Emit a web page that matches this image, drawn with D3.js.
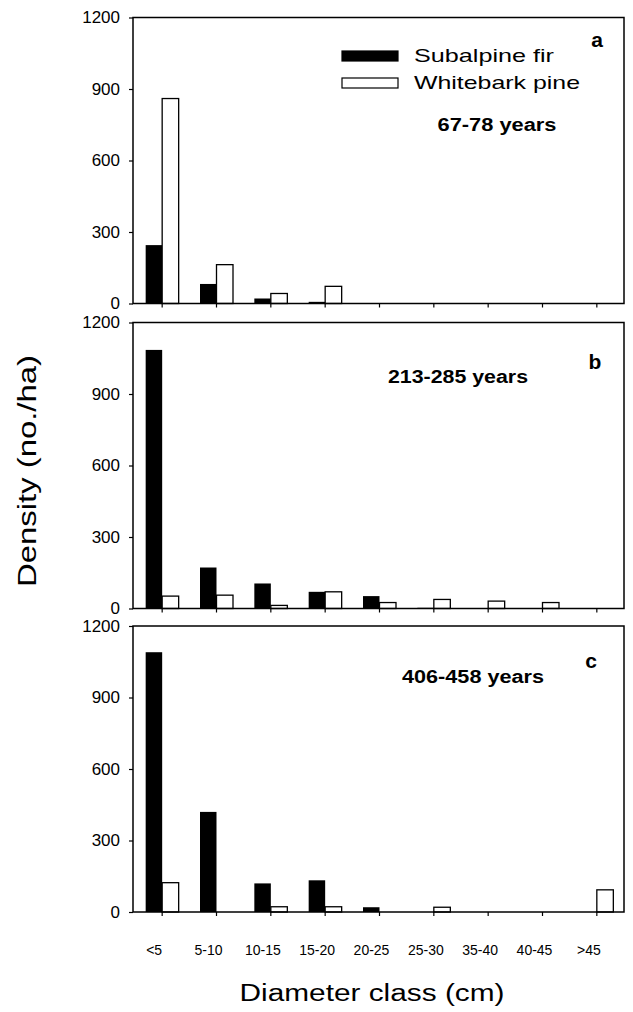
<!DOCTYPE html>
<html>
<head>
<meta charset="utf-8">
<script src="https://cdn.jsdelivr.net/npm/d3@7"></script>
<style>
  body { margin: 0; background: #fff; }
  text { font-family: "Liberation Sans", Arial, sans-serif; fill: #000; }
</style>
</head>
<body>
<svg id="chart" width="633" height="1012"></svg>
<script>
const categories = ["<5", "5-10", "10-15", "15-20", "20-25", "25-30", "35-40", "40-45", ">45"];
const yTicks = [0, 300, 600, 900, 1200];

// density (no./ha)
const firA = [245, 82, 21, 7, 0, 0, 0, 0, 0];
const pineA = [860, 163, 42, 72, 0, 0, 0, 0, 0];
const firB = [1085, 172, 105, 70, 52, 3, 0, 0, 0];
const pineB = [52, 56, 13, 70, 25, 38, 31, 25, 0];
const firC = [1090, 420, 120, 133, 20, 0, 0, 0, 0];
const pineC = [123, 0, 22, 22, 0, 20, 0, 0, 93];

const panelLetters = ["a", "b", "c"];
const ageLabels = ["67-78 years", "213-285 years", "406-458 years"];

const svg = d3.select("#chart");
const left = 133, right = 624, h = 286;
const tops = [17.5, 322.5, 626];

const x = d3.scaleBand().domain(categories).range([135, 624]);
const barW = 16.5;

const panels = [
  {fir: firA, pine: pineA, letter: {x: 597, y: 47}, age: {x: 497, y: 131, len: 119}},
  {fir: firB, pine: pineB, letter: {x: 595, y: 369}, age: {x: 458, y: 383, len: 140}},
  {fir: firC, pine: pineC, letter: {x: 591, y: 668}, age: {x: 473, y: 683, len: 142}}
];

panels.forEach((p, i) => {
  const top = tops[i];
  const y = d3.scaleLinear().domain([0, 1200]).range([top + h, top]);
  const g = svg.append("g");

  const rows = categories.map((c, k) => ({c: c, fir: p.fir[k], pine: p.pine[k]}));

  g.selectAll(".fir")
    .data(rows.filter(d => d.fir > 0))
    .enter().append("rect")
    .attr("x", d => x(d.c) + x.bandwidth() / 2 - barW)
    .attr("y", d => y(d.fir))
    .attr("width", barW)
    .attr("height", d => y(0) - y(d.fir))
    .attr("fill", "#000");

  g.selectAll(".pine")
    .data(rows.filter(d => d.pine > 0))
    .enter().append("rect")
    .attr("x", d => x(d.c) + x.bandwidth() / 2)
    .attr("y", d => y(d.pine))
    .attr("width", barW)
    .attr("height", d => y(0) - y(d.pine))
    .attr("fill", "#fff")
    .attr("stroke", "#000")
    .attr("stroke-width", 1.3);

  g.append("rect")
    .attr("x", left).attr("y", top)
    .attr("width", right - left).attr("height", h)
    .attr("fill", "none").attr("stroke", "#000").attr("stroke-width", 1.5);

  const ya = g.append("g")
    .attr("transform", `translate(${left},0)`)
    .call(d3.axisLeft(y).tickValues(yTicks).tickFormat(d3.format("d")).tickSize(4).tickPadding(9));
  ya.select(".domain").remove();
  ya.selectAll("text").style("font-size", "17px").attr("dy", "0.3em");
  ya.selectAll("line").attr("stroke-width", 1.2);

  const xa = g.append("g")
    .attr("transform", `translate(0,${top + h})`)
    .call(d3.axisBottom(x).tickSize(4).tickFormat(""));
  xa.select(".domain").remove();
  xa.selectAll("line").attr("stroke-width", 1.2);

  g.append("text")
    .attr("x", p.letter.x).attr("y", p.letter.y)
    .attr("text-anchor", "middle")
    .style("font-size", "21px").style("font-weight", "bold")
    .text(panelLetters[i]);

  g.append("text")
    .attr("x", p.age.x).attr("y", p.age.y)
    .attr("text-anchor", "middle")
    .attr("textLength", p.age.len).attr("lengthAdjust", "spacingAndGlyphs")
    .style("font-size", "18px").style("font-weight", "bold")
    .text(ageLabels[i]);
});

// x tick labels under the bottom panel
svg.append("g").selectAll("text")
  .data(categories)
  .enter().append("text")
  .attr("x", d => x(d) + x.bandwidth() / 2 - 8)
  .attr("y", 955)
  .attr("text-anchor", "middle")
  .style("font-size", "14px")
  .text(d => d);

// legend
const legend = [
  {name: "Subalpine fir", fill: "#000", y: 51, len: 140},
  {name: "Whitebark pine", fill: "#fff", y: 78, len: 166}
];
const lg = svg.append("g");
legend.forEach(d => {
  lg.append("rect")
    .attr("x", 342).attr("y", d.y).attr("width", 56).attr("height", 10)
    .attr("fill", d.fill).attr("stroke", "#000").attr("stroke-width", 1.2);
  lg.append("text")
    .attr("x", 414).attr("y", d.y + 11)
    .attr("textLength", d.len).attr("lengthAdjust", "spacingAndGlyphs")
    .style("font-size", "19px")
    .text(d.name);
});

// axis titles
svg.append("text")
  .attr("transform", "translate(36,471) rotate(-90)")
  .attr("text-anchor", "middle")
  .attr("textLength", 232).attr("lengthAdjust", "spacingAndGlyphs")
  .style("font-size", "25px")
  .text("Density (no./ha)");

svg.append("text")
  .attr("x", 372).attr("y", 1001)
  .attr("text-anchor", "middle")
  .attr("textLength", 265).attr("lengthAdjust", "spacingAndGlyphs")
  .style("font-size", "23px")
  .text("Diameter class (cm)");
</script>
</body>
</html>
